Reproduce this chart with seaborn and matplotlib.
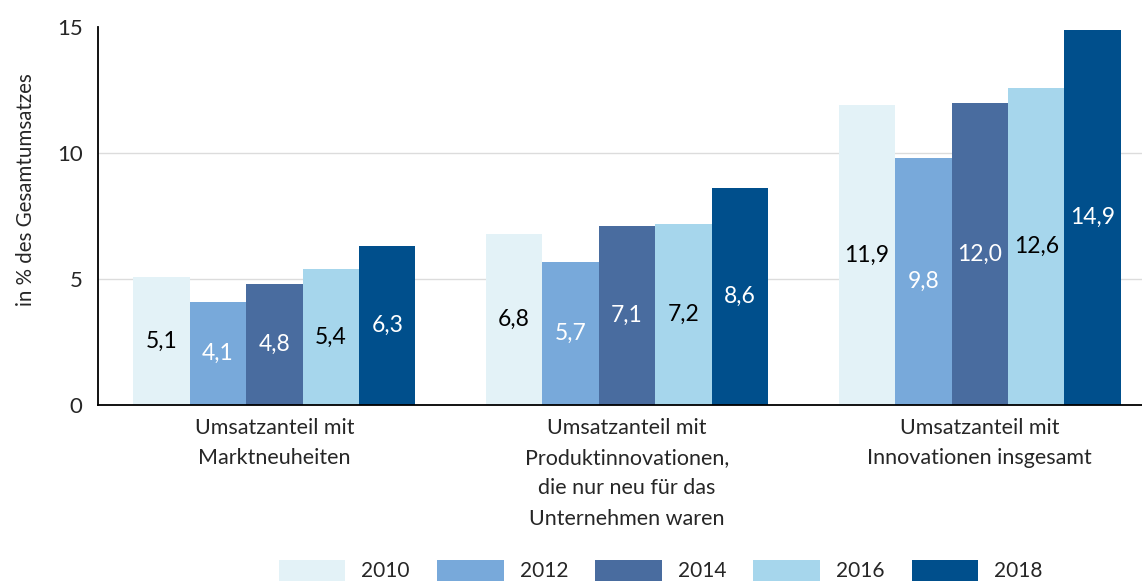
"""
Umsatzanteil mit Innovationen - grouped bar chart
"""
import matplotlib
matplotlib.use('Agg')
import matplotlib.pyplot as plt
import seaborn as sns
import pandas as pd

# Data
categories = [
    "Umsatzanteil mit\nMarktneuheiten",
    "Umsatzanteil mit\nProduktinnovationen,\ndie nur neu für das\nUnternehmen waren",
    "Umsatzanteil mit\nInnovationen insgesamt",
]
years = ["2010", "2012", "2014", "2016", "2018"]
values_2010 = [5.1, 6.8, 11.9]
values_2012 = [4.1, 5.7, 9.8]
values_2014 = [4.8, 7.1, 12.0]
values_2016 = [5.4, 7.2, 12.6]
values_2018 = [6.3, 8.6, 14.9]

colors = ["#e3f2f7", "#78a9da", "#496c9f", "#a6d6ec", "#004f8c"]
label_colors = ["black", "white", "white", "black", "white"]

series = [values_2010, values_2012, values_2014, values_2016, values_2018]
rows = []
for year, vals in zip(years, series):
    for cat, v in zip(categories, vals):
        rows.append({"Kategorie": cat, "Jahr": year, "Wert": v})
df = pd.DataFrame(rows)

sns.set_style("white")
plt.rcParams['font.family'] = ['Lato', 'DejaVu Sans']

fig = plt.figure(figsize=(11.42, 5.83), dpi=100)
ax = fig.add_axes([0.0858, 0.305, 0.9142, 0.6485])

sns.barplot(data=df, x="Kategorie", y="Wert", hue="Jahr", order=categories,
            hue_order=years, palette=dict(zip(years, colors)), saturation=1,
            linewidth=0, width=0.8, ax=ax)

# value labels in the middle of each bar
for container, tc in zip(ax.containers, label_colors):
    for bar in container:
        h = bar.get_height()
        ax.text(bar.get_x() + bar.get_width() / 2, h / 2,
                f"{h:.1f}".replace(".", ","), ha="center", va="center",
                fontsize=16.5, color=tc)

ax.set_ylim(0, 15)
ax.set_xlim(-0.5, 2.46)
ax.set_yticks([0, 5, 10, 15])
ax.set_ylabel("in % des Gesamtumsatzes", fontsize=14.8)
ax.yaxis.set_label_coords(-0.059, 0.569)
ax.set_xlabel("")
ax.tick_params(axis="y", length=6, width=1.3, color="black", labelsize=16, pad=5)
ax.tick_params(axis="x", length=0, labelsize=15.5, pad=9)
for lbl in ax.get_xticklabels():
    lbl.set_linespacing(1.65)

ax.yaxis.grid(True, color="#dcdcdc", linewidth=1)
ax.set_axisbelow(True)
ax.get_ygridlines()[-1].set_visible(False)

for side in ["top", "right"]:
    ax.spines[side].set_visible(False)
ax.spines["left"].set_color("black")
ax.spines["left"].set_linewidth(1.3)
ax.spines["bottom"].set_color("black")
ax.spines["bottom"].set_linewidth(1.3)

sns.move_legend(ax, "center", bbox_to_anchor=(0.539, -0.437), ncol=5,
                frameon=False, title=None, fontsize=15, handlelength=3.2,
                handleheight=1.2, handletextpad=0.77, columnspacing=1.3)

plt.savefig("out.png", dpi=100)
plt.close()
